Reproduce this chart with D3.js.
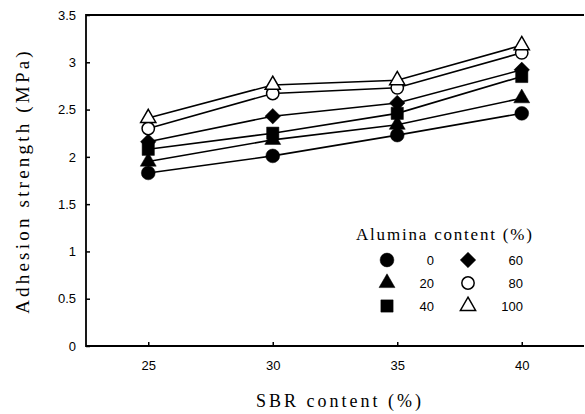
<!DOCTYPE html>
<html>
<head>
<meta charset="utf-8">
<script src="https://cdn.jsdelivr.net/npm/d3@7"></script>
<style>
  body { margin: 0; background: #fff; }
  svg { display: block; }
  .tick-label { font-family: "Liberation Sans", Arial, sans-serif; font-size: 13px; }
  .serif { font-family: "Liberation Serif", "DejaVu Serif", serif; }
</style>
</head>
<body>
<svg id="chart" width="585" height="414"></svg>
<script>
// SBR content (%) on the x axis
const sbr = [25, 30, 35, 40]

// alumina content series, one per legend entry
const alumina = [0, 20, 40, 60, 80, 100]

// adhesion strength (MPa)
const strength0 = [1.83, 2.01, 2.23, 2.46]
const strength20 = [1.95, 2.18, 2.34, 2.62]
const strength40 = [2.08, 2.25, 2.46, 2.85]
const strength60 = [2.16, 2.43, 2.57, 2.92]
const strength80 = [2.30, 2.67, 2.73, 3.10]
const strength100 = [2.41, 2.76, 2.81, 3.18]

const yTicks = [0, 0.5, 1, 1.5, 2, 2.5, 3, 3.5]

// a wide diamond (square turned 45deg), d3's own one is too narrow
const wideDiamond = {
    draw(ctx, size){
        let r = Math.sqrt(size / 2)
        ctx.moveTo(0, -r)
        ctx.lineTo(r, 0)
        ctx.lineTo(0, r)
        ctx.lineTo(-r, 0)
        ctx.closePath()
    }
}

const series = [
    {name: alumina[0], values: strength0, shape: d3.symbolCircle, filled: true},
    {name: alumina[1], values: strength20, shape: d3.symbolTriangle, filled: true},
    {name: alumina[2], values: strength40, shape: d3.symbolSquare, filled: true},
    {name: alumina[3], values: strength60, shape: wideDiamond, filled: true},
    {name: alumina[4], values: strength80, shape: d3.symbolCircle, filled: false},
    {name: alumina[5], values: strength100, shape: d3.symbolTriangle, filled: false}
]

const svg = d3.select("#chart")
const plotLeft = 86, plotRight = 584, plotTop = 15, plotBottom = 346

const x = d3.scaleLinear().domain([22.5, 42.5]).range([plotLeft, plotRight])
const y = d3.scaleLinear().domain([0, 3.5]).range([plotBottom, plotTop])

// symbol sizes (area) per shape so they look similar to the scan
function symSize(shape, filled){
    if(shape === d3.symbolCircle) return filled ? 150 : 120
    if(shape === d3.symbolTriangle) return filled ? 110 : 100
    if(shape === d3.symbolSquare) return 150
    return 120
}

// frame: left, bottom and top lines (right side is cut off in the scan)
svg.append("path")
    .attr("d", `M${plotRight},${plotTop}H${plotLeft}V${plotBottom}H${plotRight}`)
    .attr("fill", "none")
    .attr("stroke", "#000")
    .attr("stroke-width", 1.8)

// y ticks point inwards
const yAxis = d3.axisLeft(y).tickValues(yTicks).tickSizeInner(-4).tickSizeOuter(0)
    .tickFormat(d => d)
const gy = svg.append("g").attr("transform", `translate(${plotLeft},0)`).call(yAxis)
gy.select(".domain").remove()
gy.selectAll("line").attr("stroke-width", 1.5)
gy.selectAll("text").attr("class", "tick-label").attr("x", -10).attr("fill", "#000")

const xAxis = d3.axisBottom(x).tickValues(sbr).tickSizeInner(-4).tickSizeOuter(0)
const gx = svg.append("g").attr("transform", `translate(0,${plotBottom})`).call(xAxis)
gx.select(".domain").remove()
gx.selectAll("line").attr("stroke-width", 1.5)
gx.selectAll("text").attr("class", "tick-label").attr("y", 15).attr("fill", "#000")

// axis titles (scan type is wide, so letter-spaced)
svg.append("text")
    .attr("class", "serif")
    .attr("x", 340).attr("y", 407)
    .attr("text-anchor", "middle")
    .attr("font-size", 18)
    .attr("letter-spacing", 3)
    .text("SBR content (%)")

svg.append("text")
    .attr("class", "serif")
    .attr("transform", "translate(29,181) rotate(-90)")
    .attr("text-anchor", "middle")
    .attr("font-size", 19)
    .attr("letter-spacing", 3.2)
    .text("Adhesion strength (MPa)")

// lines
const line = d3.line().x((d, i) => x(sbr[i])).y(d => y(d))
svg.append("g").selectAll("path")
    .data(series)
    .join("path")
    .attr("d", d => line(d.values))
    .attr("fill", "none")
    .attr("stroke", "#000")
    .attr("stroke-width", 1.6)

// markers
const pts = series.flatMap(s => s.values.map((v, i) => ({s, v, i})))
svg.append("g").selectAll("path")
    .data(pts)
    .join("path")
    .attr("transform", d => `translate(${x(sbr[d.i])},${y(d.v)})`)
    .attr("d", d => d3.symbol(d.s.shape, symSize(d.s.shape, d.s.filled))())
    .attr("fill", d => d.s.filled ? "#000" : "#fff")
    .attr("stroke", "#000")
    .attr("stroke-width", d => d.s.filled ? 0.5 : 1.5)

// legend
const lg = svg.append("g")
lg.append("text")
    .attr("class", "serif")
    .attr("x", 356).attr("y", 240)
    .attr("font-size", 17)
    .attr("letter-spacing", 1.8)
    .text("Alumina content (%)")

const rowY = [260, 283, 306]
const colSym = [387, 468]
const colLab = [434, 523]
lg.selectAll("g.item")
    .data(series)
    .join("g")
    .attr("class", "item")
    .each(function(d, k){
        let col = Math.floor(k / 3), row = k % 3
        let g = d3.select(this)
        g.append("path")
            .attr("transform", `translate(${colSym[col]},${rowY[row]})`)
            .attr("d", d3.symbol(d.shape, symSize(d.shape, d.filled))())
            .attr("fill", d.filled ? "#000" : "#fff")
            .attr("stroke", "#000")
            .attr("stroke-width", d.filled ? 0.5 : 1.5)
        g.append("text")
            .attr("class", "tick-label")
            .attr("font-size", 14)
            .attr("x", colLab[col]).attr("y", rowY[row] + 5)
            .attr("text-anchor", "end")
            .text(d.name)
    })
</script>
</body>
</html>
